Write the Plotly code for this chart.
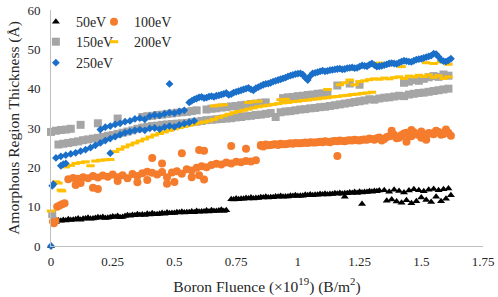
import plotly.graph_objects as go

# ---------------- data ----------------
fifty_x = [0.00,
    0.01, 0.03, 0.05, 0.07, 0.09, 0.11, 0.13, 0.15, 0.17, 0.19, 0.21, 0.23, 0.25, 0.27, 0.29, 0.31, 0.33, 0.35,
    0.37, 0.39, 0.41, 0.43, 0.45, 0.47, 0.49, 0.51, 0.53, 0.55, 0.57, 0.59, 0.61, 0.63, 0.65, 0.67, 0.69, 0.71,
    0.73, 0.75, 0.77, 0.79, 0.81, 0.83, 0.85, 0.87, 0.89, 0.91, 0.93, 0.95, 0.97, 0.99, 1.01, 1.03, 1.05, 1.07,
    1.09, 1.11, 1.13, 1.15, 1.17, 1.19, 1.21, 1.23, 1.25, 1.27, 1.29, 1.31, 1.33,
    1.35, 1.37, 1.39, 1.41, 1.43, 1.45, 1.47, 1.49, 1.51, 1.53, 1.55, 1.57, 1.59, 1.61,
    1.36, 1.38, 1.40, 1.42, 1.44, 1.46, 1.48, 1.50, 1.52, 1.54, 1.56, 1.58, 1.60, 1.62,
    1.19, 1.26]
fifty_y = [0.0,
    6.3, 6.5, 6.6, 6.8, 6.7, 7.0, 6.9, 7.2, 7.0, 7.3, 7.4, 7.2, 7.5, 7.6, 7.4, 7.8, 7.9, 8.1,
    8.0, 8.2, 8.3, 8.1, 8.4, 8.5, 8.4, 8.6, 8.7, 8.6, 8.8, 8.9, 8.8, 9.0, 9.1, 8.9, 9.2, 9.1,
    11.9, 12.1, 12.0, 12.2, 12.3, 12.2, 12.4, 12.5, 12.4, 12.6, 12.7, 12.6, 12.8, 12.9, 12.8, 13.0, 13.1, 13.0,
    13.2, 13.3, 13.2, 13.4, 13.5, 13.4, 13.6, 13.7, 13.8, 13.7, 13.9, 14.0, 14.1,
    14.2, 13.8, 14.3, 14.0, 13.6, 14.1, 14.4, 14.2, 13.9, 14.3, 14.5, 14.2, 14.4, 14.6,
    11.5, 11.8, 11.3, 11.0, 11.6, 10.9, 11.4, 12.3, 11.7, 11.2, 12.5, 11.4, 12.0, 12.9,
    12.5, 10.7]
fifty_x2 = [0.02, 0.04, 0.06, 0.08, 0.10, 0.12, 0.14, 0.16, 0.18, 0.20, 0.22, 0.24, 0.26, 0.28, 0.30, 0.32,
    0.34, 0.36, 0.38, 0.40, 0.42, 0.44, 0.46, 0.48, 0.50, 0.52, 0.54, 0.56, 0.58, 0.60, 0.62, 0.64, 0.66, 0.68,
    0.70,
    0.74, 0.76, 0.78, 0.80, 0.82, 0.84, 0.86, 0.88, 0.90, 0.92, 0.94, 0.96, 0.98, 1.00, 1.02, 1.04, 1.06, 1.08,
    1.10, 1.12, 1.14, 1.16, 1.18, 1.20, 1.22, 1.24, 1.26, 1.28, 1.30, 1.32]
fifty_y2 = [6.1, 6.4, 6.5, 6.6, 6.8, 6.7, 7.0, 6.9, 7.1, 7.2, 7.1, 7.3, 7.4, 7.3, 7.6, 7.7, 7.8, 7.9, 7.9,
    8.0, 8.1, 8.2, 8.2, 8.3, 8.4, 8.5, 8.5, 8.6, 8.6, 8.7, 8.8, 8.8, 8.9, 9.0, 8.9,
    11.8, 11.9, 12.0, 12.1, 12.1, 12.2, 12.3, 12.3, 12.4, 12.5, 12.5, 12.6, 12.7, 12.7, 12.8, 12.9, 12.9, 13.0,
    13.1, 13.1, 13.2, 13.3, 13.3, 13.4, 13.5, 13.5, 13.6, 13.7, 13.8, 13.9]

hundred_x = [0.008, 0.012, 0.018, 0.025, 0.035, 0.045, 0.055,
    0.07, 0.09, 0.11, 0.13, 0.15, 0.17, 0.19, 0.21, 0.23, 0.25, 0.27, 0.29, 0.31, 0.33, 0.35, 0.37, 0.39, 0.41,
    0.43, 0.45, 0.47, 0.49, 0.51, 0.53, 0.55, 0.57, 0.59, 0.61, 0.63, 0.65, 0.67, 0.69, 0.71, 0.73, 0.75, 0.77,
    0.79, 0.81, 0.83,
    0.10, 0.12, 0.17, 0.19, 0.27, 0.35, 0.39, 0.47, 0.50, 0.57, 0.62, 0.60,
    0.41, 0.53, 0.60, 0.62, 0.73, 0.79, 0.85, 0.45,
    0.85, 0.87, 0.89, 0.91, 0.93, 0.95, 0.97, 0.99, 1.01, 1.03, 1.05, 1.07, 1.09, 1.11, 1.13, 1.15, 1.17, 1.19,
    1.21, 1.23, 1.25, 1.27, 1.29, 1.31, 1.33, 1.35, 1.37, 1.39, 1.41, 1.43, 1.45, 1.47, 1.49, 1.51, 1.53, 1.55,
    1.57, 1.59, 1.61,
    1.38, 1.42, 1.46, 1.50, 1.56, 1.60, 1.62, 1.34, 1.44, 1.52,
    1.16]
hundred_y = [6.2, 5.8, 6.4, 10.0, 10.3, 10.6, 10.9,
    17.0, 17.3, 17.1, 17.5, 17.2, 17.8, 17.4, 17.9, 17.6, 18.2, 17.5, 18.0, 17.2, 18.3, 17.8, 18.5, 18.9, 18.6,
    18.2, 18.8, 17.5, 18.7, 19.0, 18.4, 19.5, 19.2, 19.9, 20.3, 20.0, 20.6, 20.9, 20.7, 21.2, 21.0, 21.4, 21.3,
    21.6, 21.5, 21.8,
    15.5, 16.0, 14.8, 14.5, 16.5, 16.2, 16.8, 15.8, 16.3, 17.5, 16.9, 18.0,
    22.4, 23.6, 24.4, 24.2, 25.4, 24.7, 25.7, 21.0,
    25.5, 25.8, 25.7, 25.9, 26.0, 25.9, 26.1, 26.2, 26.1, 26.3, 26.4, 26.3, 26.5, 26.6, 26.4, 26.7, 26.8, 26.6,
    26.9, 27.0, 26.8, 27.1, 27.3, 27.0, 27.6, 27.2, 27.9, 28.3, 27.5, 28.6, 28.1, 28.9, 28.2, 27.8, 28.7, 28.4,
    29.0, 28.5, 28.8,
    29.3, 28.0, 29.5, 27.5, 29.3, 29.6, 28.0, 26.8, 26.5, 27.0,
    22.9]
hundred_x2 = [0.86, 0.88, 0.90, 0.92, 0.94, 0.96, 0.98, 1.00, 1.02, 1.04, 1.06, 1.08, 1.10, 1.12, 1.14, 1.16,
    1.18, 1.20, 1.22, 1.24, 1.26, 1.28, 1.30, 1.32, 1.34, 1.36, 1.38, 1.40, 1.42, 1.44, 1.46, 1.48, 1.50, 1.52,
    1.54, 1.56, 1.58, 1.60]
hundred_y2 = [25.3, 25.6, 25.8, 25.7, 25.9, 26.0, 26.0, 26.1, 26.2, 26.2, 26.3, 26.4, 26.4, 26.5, 26.6, 26.6,
    26.7, 26.8, 26.8, 26.9, 27.0, 27.0, 27.2, 27.4, 27.1, 27.7, 28.0, 27.4, 28.2, 28.8, 27.9, 28.4, 29.1, 28.0,
    28.6, 29.2, 28.3, 28.9]

onefifty_x = [0.005,
    0.00, 0.02, 0.04, 0.06, 0.08, 0.12, 0.19, 0.27,
    0.37, 0.39, 0.41, 0.43, 0.45, 0.47, 0.49, 0.51, 0.53, 0.55, 0.57, 0.59,
    0.63, 0.65, 0.67, 0.69, 0.71, 0.73, 0.75, 0.77, 0.79, 0.81, 0.83, 0.85, 0.87,
    0.94, 0.96, 0.98, 1.00, 1.02, 1.04, 1.06, 1.08, 1.10, 1.12, 1.16, 1.21, 1.25,
    1.43, 1.45, 1.47, 1.49, 1.51, 1.53, 1.55, 1.57, 1.59, 1.61,
    0.03, 0.05, 0.07, 0.09, 0.11, 0.13, 0.15, 0.17, 0.19, 0.21, 0.23, 0.25, 0.27, 0.29, 0.31, 0.33, 0.35, 0.37,
    0.39, 0.41, 0.43, 0.45, 0.47, 0.49, 0.51, 0.53, 0.55, 0.57, 0.59, 0.61, 0.63, 0.65, 0.67, 0.69, 0.71, 0.73,
    0.75, 0.77, 0.79, 0.81, 0.83, 0.85, 0.87, 0.89, 0.91, 0.93, 0.95, 0.97, 0.99, 1.01, 1.03, 1.05, 1.07, 1.09,
    1.11, 1.13, 1.15, 1.17, 1.19, 1.21, 1.23, 1.25, 1.27, 1.29, 1.31, 1.33, 1.35, 1.37, 1.39, 1.41, 1.43, 1.45,
    1.47, 1.49, 1.51, 1.53, 1.55, 1.57, 1.59, 1.61]
onefifty_y = [8.1,
    29.0, 29.3, 29.5, 29.6, 29.8, 30.8, 31.2, 32.4,
    32.8, 33.0, 33.1, 33.3, 33.4, 33.6, 33.7, 33.9, 34.0, 34.1, 34.3, 34.5,
    34.7, 34.9, 35.0, 35.2, 35.3, 35.5, 35.6, 35.8, 35.9, 36.1, 36.2, 36.4, 36.5,
    37.6, 37.8, 37.9, 38.1, 38.2, 38.4, 38.5, 38.7, 38.8, 39.0, 40.8, 41.3, 41.0,
    41.5, 41.8, 42.2, 42.0, 42.5, 42.9, 43.2, 43.0, 43.6, 43.3,
    25.8, 26.0, 26.2, 26.4, 26.6, 26.9, 27.1, 27.3, 27.5, 27.7, 28.0, 28.2, 28.5, 28.8, 29.1, 29.4, 29.8, 30.1,
    30.3, 30.5, 30.6, 30.8, 30.9, 31.0, 31.1, 31.2, 31.3, 31.5, 31.6, 31.8, 32.0, 32.1, 32.2, 32.3, 32.4, 32.5,
    32.7, 32.8, 33.0, 33.1, 33.3, 33.4, 33.6, 33.8, 32.8, 34.0, 34.2, 34.3, 34.5, 34.7, 34.8, 35.0, 35.1, 35.3,
    35.4, 35.6, 35.8, 36.0, 36.2, 36.4, 36.6, 36.8, 37.0, 37.3, 37.2, 37.5, 37.7, 37.8, 38.0, 38.2, 38.1, 38.5,
    38.7, 38.9, 39.0, 39.2, 39.4, 39.6, 39.8, 40.0]

twohundred_x = [0.00, 0.02, 0.03, 0.04, 0.045,
    0.06, 0.08, 0.10, 0.12, 0.14, 0.16, 0.18, 0.20, 0.22, 0.24,
    0.26, 0.28, 0.30, 0.32, 0.34, 0.36, 0.38, 0.40, 0.42, 0.44, 0.46, 0.48, 0.50, 0.52, 0.54, 0.56, 0.58, 0.60,
    0.62, 0.64, 0.66, 0.68, 0.70, 0.72, 0.74, 0.76, 0.78, 0.80, 0.82, 0.84, 0.86, 0.88, 0.90, 0.92, 0.94, 0.96,
    0.98, 1.00, 1.02, 1.04, 1.06, 1.08, 1.10, 1.12, 1.14, 1.16, 1.18, 1.20, 1.22, 1.24, 1.26, 1.28, 1.30,
    0.66, 0.68, 0.70, 0.80, 0.82, 0.84, 0.93, 0.95, 1.12,
    1.17, 1.19, 1.21, 1.23, 1.25, 1.27, 1.29, 1.31, 1.33, 1.35, 1.37, 1.39, 1.41, 1.43, 1.45, 1.47, 1.49, 1.51,
    1.53, 1.55, 1.57, 1.59, 1.61,
    1.16, 1.19, 1.22, 1.30, 1.33, 1.36, 1.42, 1.52, 1.55, 1.58, 1.61]
twohundred_y = [8.9, 16.3, 16.0, 14.2, 14.0,
    20.1, 20.5, 21.0, 21.2, 21.4, 20.4, 21.6, 21.8, 21.9, 22.0,
    24.0, 24.6, 25.2, 25.7, 26.2, 26.7, 27.2, 27.7, 28.2, 28.6, 29.0, 29.4, 29.8, 30.1, 30.4, 30.7, 31.0, 31.3,
    31.5, 31.8, 32.2, 32.7, 33.1, 33.5, 33.9, 34.2, 34.5, 34.8, 35.1, 35.4, 35.6, 35.8, 36.0, 36.2, 36.4, 36.5,
    36.7, 36.8, 37.0, 37.1, 37.3, 37.4, 37.6, 37.7, 37.9, 38.0, 38.2, 38.3, 38.5, 38.6, 38.8, 38.9, 39.1,
    35.6, 35.8, 35.9, 36.5, 36.7, 36.8, 37.2, 37.3, 39.8,
    41.0, 41.5, 42.2, 41.0, 41.8, 42.0, 42.3, 42.5, 42.4, 42.7, 42.5, 42.8, 43.0, 42.6, 43.2, 43.0, 43.4, 43.1,
    43.5, 42.9, 43.3, 42.6, 43.0,
    45.0, 45.2, 45.0, 46.3, 46.5, 46.0, 45.6, 46.6, 46.4, 46.8, 46.2]

twofifty_x = [0.00, 0.005, 0.01, 0.04, 0.05, 0.06, 0.24, 0.48,
    0.02, 0.04, 0.06, 0.08, 0.10, 0.12, 0.14, 0.16, 0.18, 0.20, 0.22, 0.24, 0.26, 0.28, 0.30, 0.32, 0.34, 0.36,
    0.38, 0.40, 0.42, 0.44, 0.46, 0.48, 0.50, 0.52, 0.54, 0.56, 0.58,
    0.20, 0.22, 0.24, 0.26, 0.28, 0.30, 0.32, 0.34, 0.36, 0.38, 0.40, 0.42, 0.44, 0.46, 0.48, 0.50, 0.52, 0.54,
    0.56, 0.58, 0.60, 0.62, 0.64, 0.66, 0.68, 0.70, 0.72, 0.74, 0.76, 0.78, 0.80, 0.82, 0.84, 0.86, 0.88, 0.90,
    0.92, 0.94, 0.96, 0.98, 1.00, 1.02, 1.04, 1.06, 1.08, 1.10, 1.12, 1.14, 1.16, 1.18, 1.20, 1.22, 1.24, 1.26,
    1.28, 1.30, 1.32, 1.34, 1.36, 1.38, 1.40, 1.42, 1.44, 1.46, 1.48, 1.50, 1.52, 1.54, 1.56, 1.58, 1.60, 1.62]
twofifty_y = [0.0, 15.3, 15.7, 20.4, 20.8, 21.0, 23.6, 41.2,
    22.4, 22.8, 23.1, 23.4, 23.7, 24.1, 24.5, 25.0, 25.6, 26.2, 26.8, 27.3, 27.8, 28.3, 28.8, 29.1, 29.4, 29.6,
    29.4, 29.9, 30.0, 29.7, 30.2, 30.5, 30.3, 30.8, 31.1, 31.4, 31.8,
    29.6, 30.2, 30.5, 30.9, 31.2, 31.6, 31.8, 32.3, 32.5, 32.2, 33.0, 33.3, 33.2, 33.6, 33.9, 33.8, 34.2, 34.5,
    36.5, 37.3, 37.8, 37.6, 38.0, 37.9, 38.3, 38.7, 38.4, 39.0, 39.4, 39.8, 40.2, 39.6, 40.4, 41.0, 41.3, 41.8,
    42.2, 42.6, 43.1, 43.5, 43.8, 43.6, 42.2, 43.9, 44.2, 44.6, 44.5, 44.8, 45.0, 44.9, 45.2, 45.4, 45.3, 45.9,
    45.7, 46.4, 45.6, 45.8, 46.2, 46.5, 46.3, 46.9, 47.0, 46.8, 47.4, 47.6, 48.0, 48.4, 48.8, 47.3, 46.9, 47.6]
twofifty_x2 = [0.57, 0.59, 0.61, 0.63, 0.65, 0.67, 0.69, 0.71, 0.73, 0.75, 0.77, 0.79, 0.81, 0.83, 0.85, 0.87,
    0.89, 0.91, 0.93, 0.95, 0.97, 0.99, 1.01, 1.03, 1.05, 1.07, 1.09, 1.11, 1.13, 1.15, 1.17, 1.19, 1.21, 1.23,
    1.25, 1.27, 1.29, 1.31, 1.33, 1.35, 1.37, 1.39, 1.41, 1.43, 1.45, 1.47, 1.49, 1.51, 1.53, 1.55, 1.57, 1.59,
    1.61]
twofifty_y2 = [36.9, 37.5, 37.9, 37.7, 38.1, 38.2, 38.5, 38.9, 38.6, 39.2, 39.6, 40.0, 39.8, 40.1, 40.7, 41.2,
    41.5, 42.0, 42.4, 42.8, 43.3, 43.7, 43.9, 42.8, 43.2, 44.0, 44.4, 44.4, 44.7, 44.9, 45.1, 45.0, 45.3, 45.2,
    45.6, 45.8, 46.1, 46.0, 45.7, 46.0, 46.4, 46.4, 46.6, 47.1, 46.9, 47.1, 47.5, 47.8, 48.2, 48.9, 48.1, 47.0,
    47.2]

x_tick_vals = [0, 0.25, 0.5, 0.75, 1, 1.25, 1.5, 1.75]
x_tick_text = ["0", "0.25", "0.5", "0.75", "1", "1.25", "1.5", "1.75"]
y_tick_vals = [0, 10, 20, 30, 40, 50, 60]

pairs = [(fifty_x, fifty_y), (fifty_x2, fifty_y2), (hundred_x, hundred_y), (hundred_x2, hundred_y2),
         (onefifty_x, onefifty_y), (twohundred_x, twohundred_y), (twofifty_x, twofifty_y),
         (twofifty_x2, twofifty_y2)]
for a, b in pairs:
    assert len(a) == len(b), (len(a), len(b))

FONT = "Liberation Serif"
TXT = "#262626"

fig = go.Figure()
fig.add_trace(go.Scatter(x=fifty_x + fifty_x2, y=fifty_y + fifty_y2, mode="markers", name="50eV",
                         legend="legend", cliponaxis=False,
                         marker=dict(symbol="triangle-up", size=7, color="#000000")))
fig.add_trace(go.Scatter(x=hundred_x + hundred_x2, y=hundred_y + hundred_y2, mode="markers", name="100eV",
                         legend="legend2", cliponaxis=False,
                         marker=dict(symbol="circle", size=8, color="#F47C2C")))
fig.add_trace(go.Scatter(x=onefifty_x, y=onefifty_y, mode="markers", name="150eV", legend="legend3",
                         cliponaxis=False,
                         marker=dict(symbol="square", size=8, color="#A5A5A5")))
fig.add_trace(go.Scatter(x=twohundred_x, y=twohundred_y, mode="markers", name="200eV", legend="legend4",
                         cliponaxis=False,
                         marker=dict(symbol="line-ew", size=6, color="#FFC000",
                                     line=dict(color="#FFC000", width=3))))
fig.add_trace(go.Scatter(x=twofifty_x + twofifty_x2, y=twofifty_y + twofifty_y2, mode="markers",
                         name="250eV", legend="legend5", cliponaxis=False,
                         marker=dict(symbol="diamond", size=6, color="#1A6FC9")))

leg_common = dict(orientation="h", xanchor="left", yanchor="middle",
                  bgcolor="rgba(0,0,0,0)", borderwidth=0,
                  font=dict(family=FONT, size=14, color=TXT))
col1 = -0.035
col2 = 0.0995
row1, row2, row3 = 0.949, 0.864, 0.775

fig.update_layout(
    width=498, height=297,
    margin=dict(l=51, r=15, t=10, b=51, autoexpand=False),
    paper_bgcolor="white", plot_bgcolor="white",
    font=dict(family=FONT, size=13, color=TXT),
    showlegend=True,
    legend=dict(x=col1, y=row1, **leg_common),
    legend2=dict(x=col2, y=row1, **leg_common),
    legend3=dict(x=col1, y=row2, **leg_common),
    legend4=dict(x=col2, y=row2, **leg_common),
    legend5=dict(x=col1, y=row3, **leg_common),
    xaxis=dict(range=[0, 1.75], tickvals=x_tick_vals, ticktext=x_tick_text, ticklabelstandoff=3,
               automargin=False,
               showline=True, linecolor="#BFBFBF", linewidth=1, showgrid=False, zeroline=False,
               ticks="", tickfont=dict(family=FONT, size=13, color=TXT),
               title=dict(text="Boron Fluence (×10<sup>19</sup>) (B/m<sup>2</sup>)",
                          font=dict(family=FONT, size=15.5, color=TXT), standoff=13)),
    yaxis=dict(range=[0, 60], tickvals=y_tick_vals, ticklabelstandoff=7,
               automargin=False,
               showline=True, linecolor="#BFBFBF", linewidth=1, showgrid=False, zeroline=False,
               ticks="", tickfont=dict(family=FONT, size=13, color=TXT),
               title=dict(text="Amorphous Region Thickness (Å)",
                          font=dict(family=FONT, size=15.5, color=TXT), standoff=3)),
)

fig.write_html("out.html", config={"displayModeBar": False},
               post_script="document.body.style.margin='0';")
